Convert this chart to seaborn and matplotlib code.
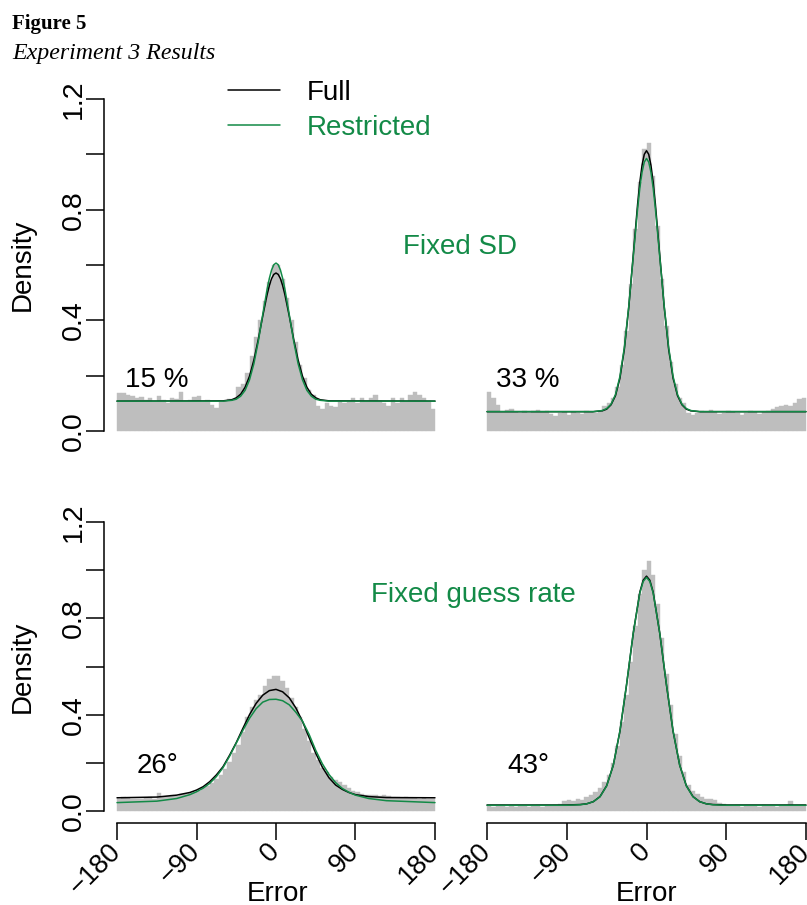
import numpy as np
import pandas as pd
import matplotlib
matplotlib.use("Agg")
import matplotlib.pyplot as plt
import seaborn as sns

# ---------------- data ----------------
BIN_EDGES = list(range(-180, 181, 5))          # 72 bins of 5 degrees
BIN_CENTERS = [e + 2.5 for e in BIN_EDGES[:-1]]

# histogram densities, top-left panel (Fixed SD, 15 %)
HIST_TL = [0.136, 0.138, 0.130, 0.125, 0.118, 0.124, 0.112, 0.118,
           0.106, 0.128, 0.112, 0.100, 0.118, 0.116, 0.140, 0.110,
           0.112, 0.124, 0.128, 0.104, 0.112, 0.094, 0.082, 0.104,
           0.110, 0.116, 0.115,
           0.16, 0.17, 0.21, 0.27, 0.34, 0.40, 0.47, 0.54, 0.60,
           0.60, 0.55, 0.48, 0.40, 0.32, 0.24, 0.19, 0.15, 0.13,
           0.09, 0.08, 0.10, 0.09, 0.085, 0.11, 0.10, 0.11, 0.12,
           0.10, 0.12, 0.11, 0.12, 0.13, 0.11, 0.10, 0.09, 0.12,
           0.10, 0.12, 0.11, 0.13, 0.14, 0.13, 0.12, 0.11, 0.08]
# top-right panel (Fixed SD, 33 %)
HIST_TR = [0.14, 0.12, 0.095, 0.068, 0.075, 0.078, 0.070, 0.064, 0.072,
           0.066, 0.074, 0.076, 0.068, 0.072, 0.062, 0.055, 0.066, 0.070,
           0.058, 0.068, 0.064, 0.060, 0.074, 0.070, 0.066, 0.068, 0.09,
           0.10, 0.12, 0.16, 0.24, 0.36, 0.53, 0.73, 0.90, 1.02,
           1.04, 0.92, 0.74, 0.55, 0.38, 0.25, 0.17, 0.12, 0.10,
           0.066, 0.058, 0.064, 0.072, 0.068, 0.076, 0.070, 0.062, 0.066,
           0.074, 0.070, 0.064, 0.058, 0.066, 0.072, 0.070, 0.060, 0.068,
           0.074, 0.08, 0.085, 0.09, 0.095, 0.09, 0.10, 0.115, 0.12]
# bottom-left panel (Fixed guess rate, 26 deg)
HIST_BL = [0.050, 0.060, 0.055, 0.048, 0.052, 0.050, 0.055, 0.058, 0.052,
           0.075, 0.060, 0.062, 0.068, 0.064, 0.070, 0.072, 0.075, 0.080,
           0.085, 0.095, 0.105, 0.115, 0.135, 0.150, 0.175, 0.205, 0.240,
           0.275, 0.33, 0.39, 0.43, 0.46, 0.48, 0.52, 0.55, 0.56,
           0.56, 0.54, 0.51, 0.47, 0.43, 0.39, 0.34, 0.29, 0.24,
           0.21, 0.18, 0.16, 0.14, 0.13, 0.12, 0.11, 0.095, 0.085,
           0.078, 0.072, 0.068, 0.068, 0.066, 0.064, 0.068, 0.062, 0.058,
           0.060, 0.055, 0.058, 0.054, 0.056, 0.052, 0.055, 0.050, 0.048]
# bottom-right panel (Fixed guess rate, 43 deg)
HIST_BR = [0.022, 0.018, 0.020, 0.025, 0.015, 0.020, 0.018, 0.022, 0.020,
           0.016, 0.020, 0.024, 0.018, 0.022, 0.020, 0.025,
           0.03, 0.04, 0.045, 0.04, 0.05, 0.045, 0.06, 0.065, 0.08, 0.095,
           0.12, 0.15, 0.20, 0.27, 0.37, 0.48, 0.62, 0.77, 0.90, 1.00,
           1.04, 0.98, 0.86, 0.72, 0.57, 0.44, 0.32, 0.23, 0.16,
           0.11, 0.085, 0.07, 0.06, 0.05, 0.05, 0.045, 0.035, 0.03,
           0.022, 0.020, 0.025, 0.018, 0.020, 0.022, 0.020, 0.018, 0.024,
           0.020, 0.022, 0.018, 0.020, 0.025, 0.040, 0.022, 0.020, 0.022]

# fitted model curves (read at these error values)
X_TOP = [-180, -60, -50, -45, -40, -35, -30, -25, -20, -15, -10, -7.5, -5, -2.5,
         0, 2.5, 5, 7.5, 10, 15, 20, 25, 30, 35, 40, 45, 50, 60, 180]
FULL_TL = [0.108, 0.109, 0.113, 0.120, 0.133, 0.158, 0.198, 0.257, 0.332, 0.416,
           0.494, 0.526, 0.551, 0.566, 0.571, 0.566, 0.551, 0.526, 0.494, 0.416,
           0.332, 0.257, 0.198, 0.158, 0.133, 0.120, 0.113, 0.109, 0.108]
RESTR_TL = [0.108, 0.108, 0.111, 0.115, 0.126, 0.147, 0.185, 0.244, 0.325, 0.421,
            0.514, 0.552, 0.582, 0.601, 0.607, 0.601, 0.582, 0.552, 0.514, 0.421,
            0.325, 0.244, 0.185, 0.147, 0.126, 0.115, 0.111, 0.108, 0.108]
FULL_TR = [0.070, 0.070, 0.073, 0.079, 0.095, 0.128, 0.191, 0.296, 0.448, 0.634,
           0.821, 0.900, 0.961, 1.000, 1.013, 1.000, 0.961, 0.900, 0.821, 0.634,
           0.448, 0.296, 0.191, 0.128, 0.095, 0.079, 0.073, 0.070, 0.070]
RESTR_TR = [0.070, 0.070, 0.074, 0.081, 0.097, 0.132, 0.197, 0.302, 0.451, 0.629,
            0.805, 0.879, 0.936, 0.972, 0.985, 0.972, 0.936, 0.879, 0.805, 0.629,
            0.451, 0.302, 0.197, 0.132, 0.097, 0.081, 0.074, 0.070, 0.070]

X_BL = [-180, -135, -112.5, -97.5, -90, -82.5, -75, -67.5, -60, -52.5, -45, -37.5,
        -30, -22.5, -15, -7.5, 0, 7.5, 15, 22.5, 30, 37.5, 45, 52.5, 60, 67.5, 75,
        82.5, 90, 105, 125, 180]
FULL_BL = [0.055, 0.058, 0.066, 0.077, 0.087, 0.101, 0.122, 0.150, 0.184, 0.232,
           0.284, 0.343, 0.400, 0.447, 0.481, 0.500, 0.505, 0.495, 0.470, 0.428,
           0.372, 0.305, 0.240, 0.182, 0.138, 0.108, 0.090, 0.077, 0.068, 0.060,
           0.056, 0.055]
RESTR_BL = [0.035, 0.041, 0.052, 0.068, 0.080, 0.095, 0.115, 0.143, 0.180, 0.228,
            0.282, 0.335, 0.385, 0.425, 0.452, 0.463, 0.464, 0.458, 0.441, 0.410,
            0.373, 0.318, 0.252, 0.196, 0.152, 0.118, 0.094, 0.078, 0.066, 0.052,
            0.043, 0.035]

X_BR = [-180, -90, -75, -67.5, -60, -52.5, -45, -37.5, -30, -22.5, -15, -7.5, -3.75,
        0, 3.75, 7.5, 15, 22.5, 30, 37.5, 45, 52.5, 60, 67.5, 75, 90, 180]
FULL_BR = [0.025, 0.025, 0.027, 0.030, 0.039, 0.060, 0.105, 0.190, 0.331, 0.524,
           0.737, 0.909, 0.958, 0.975, 0.958, 0.909, 0.737, 0.524, 0.331, 0.190,
           0.105, 0.060, 0.039, 0.030, 0.027, 0.025, 0.025]
RESTR_BR = [0.024, 0.024, 0.026, 0.030, 0.039, 0.059, 0.104, 0.190, 0.332, 0.526,
            0.738, 0.906, 0.953, 0.970, 0.953, 0.906, 0.738, 0.526, 0.332, 0.190,
            0.104, 0.059, 0.039, 0.030, 0.026, 0.024, 0.024]

PANEL_LABELS = ["15 %", "33 %", "26\u00b0", "43\u00b0"]
ROW_TITLES = ["Fixed SD", "Fixed guess rate"]
SERIES_NAMES = ["Full", "Restricted"]
X_TICKS = [-180, -90, 0, 90, 180]
X_TICKLABELS = ["\u2212180", "\u221290", "0", "90", "180"]
Y_TICKS = [0.0, 0.2, 0.4, 0.6, 0.8, 1.0, 1.2]
Y_TICKLABELS = ["0.0", "", "0.4", "", "0.8", "", "1.2"]

# ---------------- style ----------------
GRAY = "#BEBEBE"
GREEN = "#138A47"
sns.set_theme(style="white")
plt.rcParams['font.family'] = ['Liberation Sans', 'DejaVu Sans']
plt.rcParams['text.color'] = 'black'
plt.rcParams['axes.labelcolor'] = 'black'
plt.rcParams['xtick.color'] = 'black'
plt.rcParams['ytick.color'] = 'black'

W, H = 807, 905
fig = plt.figure(figsize=(W / 100, H / 100), dpi=100)


def rect(l, t, r, b):
    return [l / W, 1 - b / H, (r - l) / W, (b - t) / H]


def fx(px):
    return px / W


def fy(py):
    return 1 - py / H


panels = [
    (rect(104.3, 85.7, 447.7, 444.3), HIST_TL, X_TOP, FULL_TL, RESTR_TL, True, False),
    (rect(474.3, 85.7, 818.7, 444.3), HIST_TR, X_TOP, FULL_TR, RESTR_TR, False, False),
    (rect(104.3, 510.4, 447.7, 822.6), HIST_BL, X_BL, FULL_BL, RESTR_BL, True, True),
    (rect(474.3, 510.4, 818.7, 822.6), HIST_BR, X_BR, FULL_BR, RESTR_BR, False, True),
]

axes = []
for pos, hist, xs, full, restr, show_y, show_x in panels:
    ax = fig.add_axes(pos)
    axes.append(ax)
    hdf = pd.DataFrame({"err": BIN_CENTERS, "dens": hist})
    sns.histplot(data=hdf, x="err", weights="dens", bins=BIN_EDGES, stat="count",
                 color=GRAY, alpha=1, edgecolor=GRAY, linewidth=0.3, ax=ax)
    cdf = pd.DataFrame({"err": xs, "full": full, "restr": restr})
    sns.lineplot(data=cdf, x="err", y="full", color="black", lw=1.1,
                 estimator=None, sort=False, ax=ax, label=SERIES_NAMES[0])
    sns.lineplot(data=cdf, x="err", y="restr", color=GREEN, lw=1.1,
                 estimator=None, sort=False, ax=ax, label=SERIES_NAMES[1])
    if ax.get_legend() is not None:
        ax.get_legend().remove()
    ax.set_xlim(-194.4, 194.4)
    ax.set_ylim(-0.048, 1.248)
    ax.set_xlabel("")
    ax.set_ylabel("")
    ax.set_facecolor("none")
    for s in ax.spines.values():
        s.set_visible(False)
    if show_y:
        ax.spines["left"].set_visible(True)
        ax.spines["left"].set_bounds(0, 1.2)
        ax.spines["left"].set_linewidth(1.1)
        ax.spines["left"].set_color("black")
        ax.set_yticks(Y_TICKS)
        ax.set_yticklabels(Y_TICKLABELS, rotation=90, va="center", ha="right")
        ax.tick_params(axis="y", direction="out", length=13, width=1.1,
                       color="black", labelcolor="black", labelsize=20.5,
                       pad=-0.8, left=True)
    else:
        ax.set_yticks([])
    if show_x:
        ax.spines["bottom"].set_visible(True)
        ax.spines["bottom"].set_bounds(-180, 180)
        ax.spines["bottom"].set_linewidth(1.1)
        ax.spines["bottom"].set_color("black")
        ax.set_xticks(X_TICKS)
        ax.set_xticklabels(X_TICKLABELS, rotation=45, ha="right", va="center",
                           rotation_mode="anchor")
        ax.tick_params(axis="x", direction="out", length=12, width=1.1,
                       color="black", labelcolor="black", labelsize=19.5,
                       pad=6, bottom=True)
    else:
        ax.set_xticks([])

# legend
handles, labels = axes[0].get_legend_handles_labels()
fig.legend(handles, labels, loc="center left",
           bbox_to_anchor=(fx(228), fy(110.5)), bbox_transform=fig.transFigure,
           frameon=False, borderpad=0, borderaxespad=0, fontsize=20,
           handlelength=1.87, handletextpad=0.97, labelspacing=0.32,
           labelcolor="linecolor")

# panel annotations
TXT = 20
fig.text(fx(157), fy(386.7), PANEL_LABELS[0], ha="center", va="baseline", fontsize=TXT)
fig.text(fx(528), fy(386.7), PANEL_LABELS[1], ha="center", va="baseline", fontsize=TXT)
fig.text(fx(157), fy(773), PANEL_LABELS[2], ha="center", va="baseline", fontsize=TXT)
fig.text(fx(528.3), fy(773), PANEL_LABELS[3], ha="center", va="baseline", fontsize=TXT)
fig.text(fx(460), fy(254.3), ROW_TITLES[0], ha="center", va="baseline",
         fontsize=TXT, color=GREEN)
fig.text(fx(473.7), fy(601.7), ROW_TITLES[1], ha="center", va="baseline",
         fontsize=TXT, color=GREEN)

# axis titles
fig.text(fx(22.5), fy(265), "Density", rotation=90, ha="center", va="center", fontsize=TXT)
fig.text(fx(22.5), fy(666.5), "Density", rotation=90, ha="center", va="center", fontsize=TXT)
fig.text(fx(277.5), fy(900.5), "Error", ha="center", va="baseline", fontsize=TXT)
fig.text(fx(647), fy(900.5), "Error", ha="center", va="baseline", fontsize=TXT)

# figure caption
fig.text(fx(12), fy(28.5), "Figure 5", ha="left", va="baseline", fontsize=15,
         fontweight="bold", family=["Liberation Serif", "DejaVu Serif"])
fig.text(fx(12), fy(58.5), "Experiment 3 Results", ha="left", va="baseline",
         fontsize=17.2, fontstyle="italic", family=["Liberation Serif", "DejaVu Serif"])

fig.savefig("out.png", dpi=100)
